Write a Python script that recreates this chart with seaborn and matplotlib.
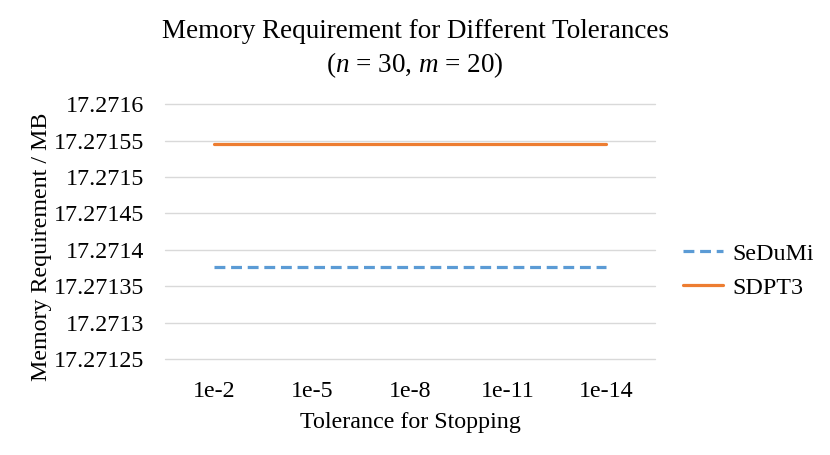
import pandas as pd
import matplotlib
matplotlib.use("Agg")
import matplotlib.pyplot as plt
import seaborn as sns
from matplotlib.ticker import FuncFormatter, MultipleLocator

# values
tolerances = ["1e-2", "1e-5", "1e-8", "1e-11", "1e-14"]
sedumi_mb = [17.271377, 17.271377, 17.271377, 17.271377, 17.271377]
sdpt3_mb = [17.271545, 17.271545, 17.271545, 17.271545, 17.271545]
solvers = ["SeDuMi", "SDPT3"]
y_ticks_min, y_ticks_max, y_step = 17.27125, 17.2716, 0.00005

sns.set_theme(style="whitegrid")
plt.rcParams['font.family'] = ['Liberation Serif', 'DejaVu Serif']
plt.rcParams['mathtext.fontset'] = 'custom'
plt.rcParams['mathtext.rm'] = 'Liberation Serif'
plt.rcParams['mathtext.it'] = 'Liberation Serif:italic'
plt.rcParams['text.color'] = 'black'
plt.rcParams['axes.labelcolor'] = 'black'

df = pd.DataFrame({
    "tol": tolerances * 2,
    "pos": list(range(len(tolerances))) * 2,
    "mem": sedumi_mb + sdpt3_mb,
    "solver": [solvers[0]] * len(tolerances) + [solvers[1]] * len(tolerances),
})

fs = 17.3
fig = plt.figure(figsize=(8.3, 4.55), dpi=100)
ax = fig.add_axes([0.199, 0.211, 0.590, 0.560])

sns.lineplot(data=df, x="pos", y="mem", hue="solver", style="solver",
             palette={"SeDuMi": "#5B9BD5", "SDPT3": "#ED7D31"},
             dashes={"SeDuMi": (3.4, 1.8), "SDPT3": ""},
             linewidth=2.3, ax=ax, legend=True)

ax.set_xlim(-0.5, len(tolerances) - 0.5)
ax.set_ylim(y_ticks_min, y_ticks_max)
ax.yaxis.set_major_locator(MultipleLocator(y_step))
ax.yaxis.set_major_formatter(FuncFormatter(lambda v, p: f"{v:.5f}".rstrip('0')))
ax.set_xticks(range(len(tolerances)))
ax.set_xticklabels(tolerances)
ax.grid(axis='x', visible=False)
ax.grid(axis='y', color='#D9D9D9', linewidth=1.0)
for gl in ax.yaxis.get_gridlines():
    gl.set_clip_on(False)
for s in ax.spines.values():
    s.set_visible(False)
ax.tick_params(axis='both', labelsize=fs, length=0, colors='#000000')
ax.tick_params(axis='y', pad=15)
ax.tick_params(axis='x', pad=16)

ax.set_xlabel("Tolerance for Stopping", fontsize=fs, labelpad=7)
ax.set_ylabel("Memory Requirement / MB", fontsize=fs)
ax.yaxis.set_label_coords(-0.232, 0.44)
fig.suptitle("Memory Requirement for Different Tolerances\n($n$ = 30, $m$ = 20)",
             fontsize=19.5, y=0.958, va='top', linespacing=1.3)

handles, labels = ax.get_legend_handles_labels()
ax.legend(handles, labels, loc='center left', bbox_to_anchor=(0.797, 0.405),
          bbox_transform=fig.transFigure, frameon=False, fontsize=fs,
          handlelength=1.67, labelspacing=0.5, handletextpad=0.37)

fig.savefig("out.png", dpi=100)
